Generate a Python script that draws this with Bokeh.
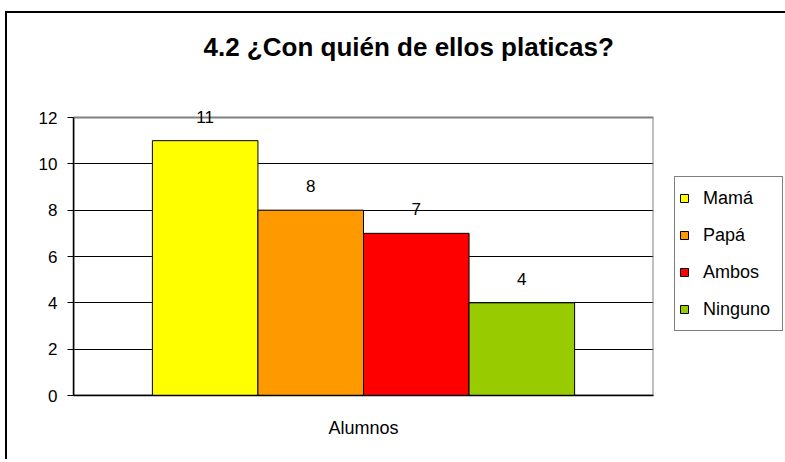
from bokeh.plotting import figure
from bokeh.models import (ColumnDataSource, FactorRange, Range1d, FixedTicker, Legend,
                          LegendItem, Title, BoxAnnotation)
from bokeh.transform import dodge
from bokeh.embed import file_html
from bokeh.resources import INLINE
from bokeh.core.properties import value

title_text = "4.2 ¿Con quién de ellos platicas?"
category = ["Alumnos"]
series = ["Mamá", "Papá", "Ambos", "Ninguno"]
counts = [11, 8, 7, 4]
colors = ["#FFFF00", "#FF9900", "#FF0000", "#99CC00"]
y_ticks = [0, 2, 4, 6, 8, 10, 12]
grid_ticks = [2, 4, 6, 8, 10]
y_max = 12

FONT = "Liberation Sans"
FRAME_H = 294
px_per_unit = 278 / 12.0
y_end = FRAME_H / px_per_unit  # headroom above 12 so the value labels are not clipped

p = figure(x_range=FactorRange(*category, range_padding=0), y_range=Range1d(0, y_end),
           frame_width=580, frame_height=FRAME_H, output_backend="svg", toolbar_location=None,
           min_border_left=66, min_border_right=132, min_border_top=88, min_border_bottom=64)
p.styles = {"margin-left": "5px", "margin-top": "11px",
            "border-left": "2px solid black", "border-top": "2px solid black"}

# spacer between title and plot area
p.add_layout(Title(text=" ", text_font_size="34px", standoff=0), "above")

p.title.text = title_text
p.title.align = "left"
p.title.offset = 130
p.title.text_font = FONT
p.title.text_font_size = "26px"
p.title.text_font_style = "bold"
p.title.text_color = "black"
p.title.standoff = 0

p.outline_line_color = None
p.background_fill_color = "white"
p.border_fill_color = "white"

# plot-area border (gray) from 0 to 12
box = BoxAnnotation(bottom=0, top=y_max, fill_alpha=0, line_color="#808080", line_alpha=1,
                    line_width=2, level="underlay")
p.add_layout(box)

p.xgrid.grid_line_color = None
p.ygrid.ticker = FixedTicker(ticks=grid_ticks)
p.ygrid.grid_line_color = "black"
p.ygrid.grid_line_width = 1

p.yaxis.ticker = FixedTicker(ticks=y_ticks)
p.yaxis.bounds = (0, y_max)
p.yaxis.axis_line_color = "black"
p.yaxis.axis_line_width = 1.5
p.yaxis.major_tick_out = 6
p.yaxis.major_tick_in = 0
p.yaxis.minor_tick_line_color = None
p.yaxis.major_label_text_font = FONT
p.yaxis.major_label_text_font_size = "17px"
p.yaxis.major_label_text_color = "black"
p.yaxis.major_label_standoff = 10

p.xaxis.axis_line_color = "black"
p.xaxis.axis_line_width = 1.5
p.xaxis.major_tick_line_color = None
p.xaxis.minor_tick_line_color = None
p.xaxis.major_label_text_font = FONT
p.xaxis.major_label_text_font_size = "18px"
p.xaxis.major_label_text_color = "black"
p.xaxis.major_label_standoff = 16

bar_w = 0.182
items = []
for i, (s, c, col) in enumerate(zip(series, counts, colors)):
    src = ColumnDataSource(dict(x=category, top=[c], lbl=[str(c)]))
    off = (i - 1.5) * bar_w
    r = p.vbar(x=dodge("x", off, range=p.x_range), top="top", width=bar_w, source=src,
               fill_color=col, line_color="black", line_width=1)
    p.text(x=dodge("x", off, range=p.x_range), y="top", text="lbl", source=src,
           text_align="center", text_baseline="middle", y_offset=-24,
           text_font=value(FONT), text_font_size="17px", text_color="black")
    items.append(LegendItem(label=s, renderers=[r]))

legend = Legend(items=items, location=(21, 64))
legend.border_line_color = "black"
legend.border_line_width = 1
legend.background_fill_color = "white"
legend.background_fill_alpha = 1
legend.glyph_width = 10
legend.glyph_height = 10
legend.label_text_font = FONT
legend.label_text_font_size = "18px"
legend.label_text_color = "black"
legend.label_standoff = 14
legend.label_width = 75
legend.padding = 4
legend.spacing = 3
legend.label_height = 34
legend.margin = 0
p.add_layout(legend, "right")

open("out.html", "w").write(file_html(p, INLINE))
